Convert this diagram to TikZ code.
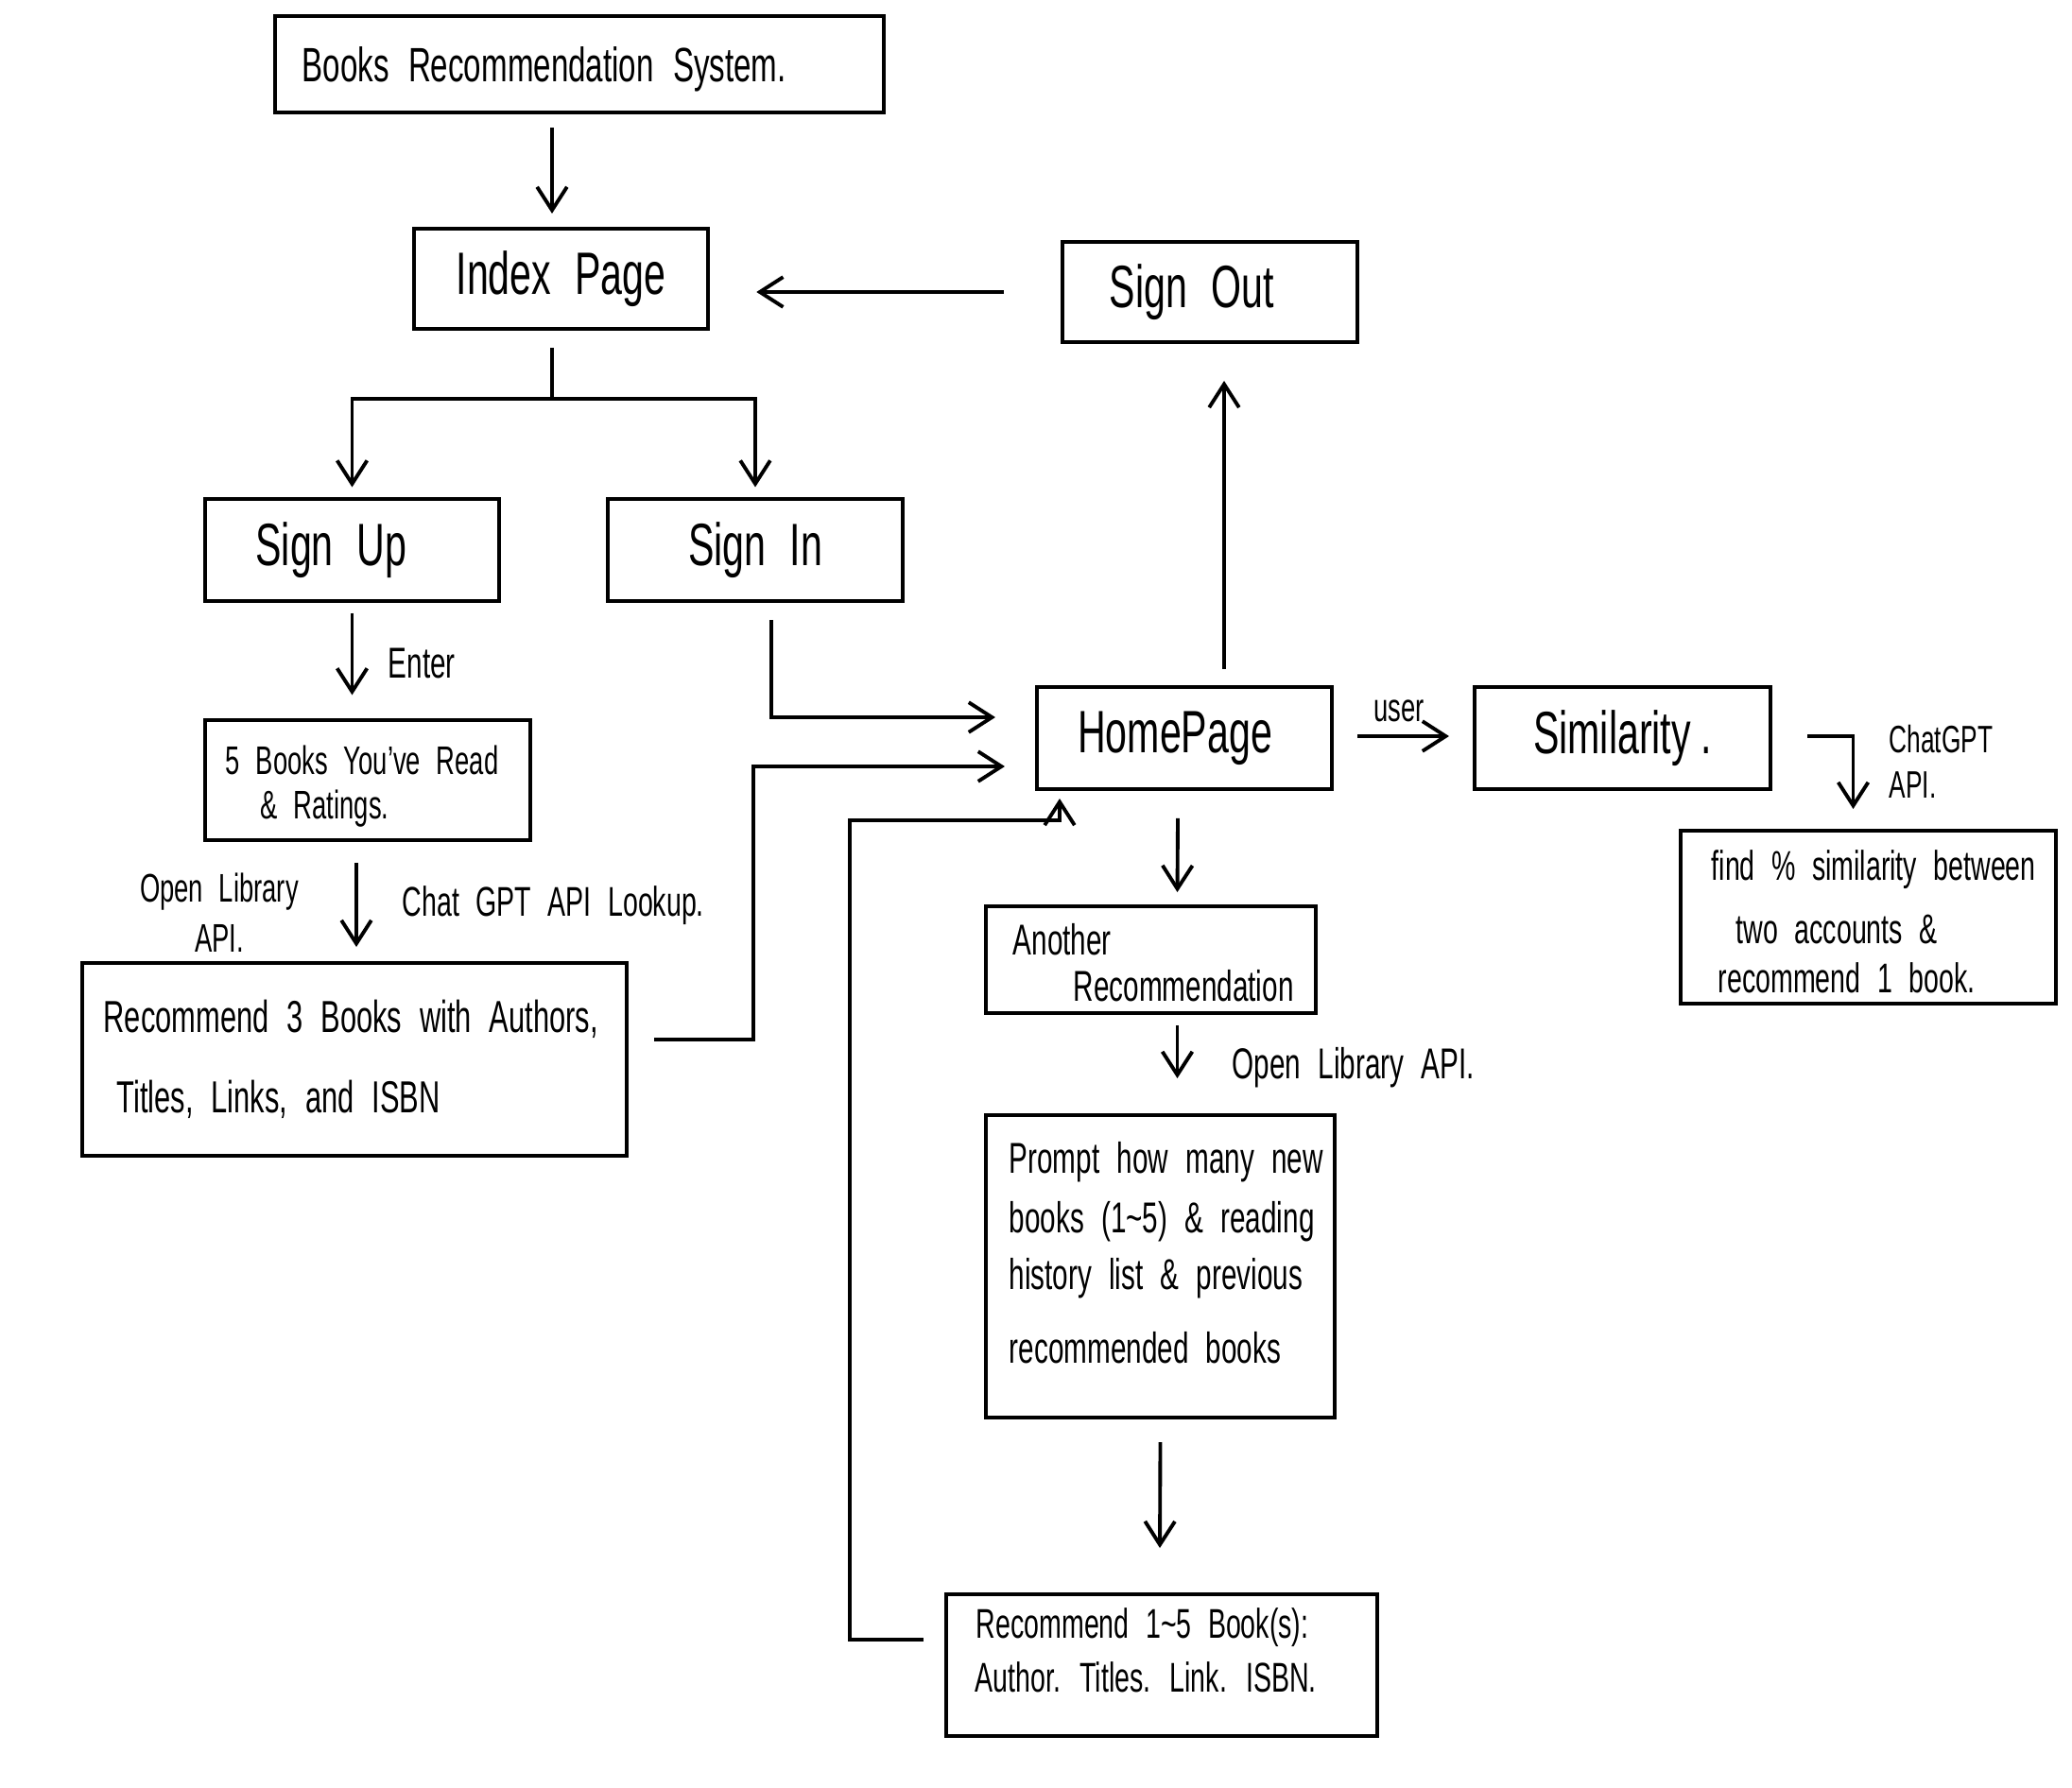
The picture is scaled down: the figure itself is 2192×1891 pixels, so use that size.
\documentclass[tikz,border=0pt]{standalone}
\usepackage{fontspec}
\setmainfont{Liberation Sans}[FakeStretch=0.65,WordSpace=2.2]
\usetikzlibrary{arrows.meta,calc}
\begin{document}
\begin{tikzpicture}[x=0.01cm,y=-0.01cm,
  box/.style={draw, line width=1.1pt, inner sep=0pt},
  ln/.style={line width=1.1pt},
  arr/.style={line width=1.1pt, -{Straight Barb[length=7pt,width=9pt,line width=1.1pt]}},
  big/.style={font=\fontsize{18}{22}\selectfont},
  txt/.style={font=\fontsize{13}{16}\selectfont, inner sep=0pt, anchor=west},
  small/.style={font=\fontsize{12}{15}\selectfont, inner sep=0pt, align=center},
]
\useasboundingbox (0,0) rectangle (2192,1891);

% boxes
\node[box, minimum width=6.44cm, minimum height=1.02cm] (title) at (613,68) {};
\node[txt, font=\fontsize{14.5}{18}\selectfont] (titletxt) at (319,73) {Books Recommendation System.};
\node[box, big, minimum width=3.11cm, minimum height=1.06cm] (index) at (593.5,295) {Index Page};
\node[box, big, minimum width=3.12cm, minimum height=1.06cm] (signout) at (1280,309) {Sign Out\kern11pt};
\node[box, big, minimum width=3.11cm, minimum height=1.08cm] (signup) at (372.5,582) {Sign Up\kern12.5pt};
\node[box, big, minimum width=3.12cm, minimum height=1.08cm] (signin) at (799,582) {Sign In};
\node[box, minimum width=3.44cm, minimum height=1.27cm] (books5) at (389,825.5) {};
\node[txt, font=\fontsize{12}{15}\selectfont] (b5a) at (238,804) {5 Books You've Read};
\node[txt, font=\fontsize{12}{15}\selectfont] (b5b) at (275,856) {\& Ratings.};
\node[box, minimum width=5.76cm, minimum height=2.04cm] (rec3) at (375,1121) {};
\node[txt, font=\fontsize{13.5}{17}\selectfont] (r3a) at (109,1078) {Recommend 3 Books with Authors,};
\node[txt, font=\fontsize{13.5}{17}\selectfont] (r3b) at (123,1163) {Titles, Links, and ISBN};
\node[box, big, minimum width=3.12cm, minimum height=1.08cm] (home) at (1253,781) {HomePage\kern5.6pt};
\node[box, big, minimum width=3.13cm, minimum height=1.08cm] (sim) at (1716.5,781) {Similarity\,.};
\node[box, minimum width=3.97cm, minimum height=1.83cm] (find) at (1976.5,970.5) {};
\node[txt, font=\fontsize{12.5}{15}\selectfont] (fa) at (1810,920) {find \% similarity between};
\node[txt, font=\fontsize{12.5}{15}\selectfont] (fb) at (1836,983) {two accounts \&};
\node[txt, font=\fontsize{12.5}{15}\selectfont] (fc) at (1817,1035) {recommend 1 book.};
\node[box, minimum width=3.49cm, minimum height=1.13cm] (another) at (1217.5,1015.5) {};
\node[txt] (aa) at (1071,994) {Another};
\node[txt] (ab) at (1135,1043) {Recommendation};
\node[box, minimum width=3.69cm, minimum height=3.20cm] (prompt) at (1227.5,1340) {};
\node[txt] (pa) at (1067,1230) {Prompt how many new};
\node[txt] (pb) at (1067,1293) {books (1\textasciitilde5) \& reading};
\node[txt] (pc) at (1067,1353) {history list \& previous};
\node[txt] (pd) at (1067,1426) {recommended books};
\node[box, minimum width=4.56cm, minimum height=1.50cm] (rec15) at (1229,1762) {};
\node[txt, font=\fontsize{12.5}{15}\selectfont] (r5a) at (1032,1722) {Recommend 1\textasciitilde5 Book(s):};
\node[txt, font=\fontsize{12.5}{15}\selectfont] (r5b) at (1031,1775) {Author. Titles. Link. ISBN.};

% labels
\node[txt] (enter) at (410,702) {Enter};
\node[small] (olapi) at (232,966) {Open Library\\API.};
\node[txt, font=\fontsize{12.5}{15}\selectfont] (gptl) at (425,958) {Chat GPT API Lookup.};
\node[small, font=\fontsize{12}{15}\selectfont] (user) at (1480,752) {user};
\node[small, align=left, anchor=west, font=\fontsize{11.5}{13.5}\selectfont] (gpt2) at (1998,806) {ChatGPT\\API.};
\node[txt] (ol2) at (1303,1130) {Open Library API.};

% connectors
\coordinate (split) at (584,422);
\coordinate (j1) at (797,811);
\coordinate (j2) at (899,868);
\draw[arr, shorten <=4pt, shorten >=4pt] ($(title.south)+(-29,0)$) -- ($(index.north)+(-9.5,0)$);
\draw[arr, shorten <=17pt, shorten >=14pt] (signout.west) -- (signout.west -| index.east);
\draw[ln] ($(index.south)+(-9.5,18)$) -- (split);
\draw[arr, shorten >=3pt] (split) -| (signup.north);
\draw[arr, shorten >=3pt] (split) -| (signin.north);
\draw[arr, shorten <=3pt, shorten >=7pt] (signup.south) -- (signup.south |- books5.north);
\draw[arr] ($(books5.south)+(-12,22)$) -- ($(rec3.north)+(2,-15)$);
\draw[arr] ($(rec3.east)+(27,-21)$) -| (j1) -- ($(home.west)+(-32,30)$);
\draw[arr] ($(signin.south)+(17,18)$) |- ($(home.west)+(-42,-22)$);
\draw[arr] ($(home.north)+(42,-17)$) -- ($(signout.south)+(15,39)$);
\draw[arr] ($(home.east)+(25,-2)$) -- ($(sim.west)+(-25,-2)$);
\draw[arr] ($(sim.east)+(37,-2)$) -| ($(find.north)+(-16,-21)$);
\draw[arr] ($(home.south)+(-7,29)$) -- ($(another.north)+(28,-13)$);
\draw[arr] ($(another.south)+(28,11)$) -- ($(prompt.north)+(18,-37)$);
\draw[arr] ($(prompt.south)+(0,24)$) -- ($(rec15.north)+(-2,-47)$);
\draw[arr] ($(rec15.west)+(-22,-27)$) -| (j2) -| ($(home.south west)+(26,8)$);
\end{tikzpicture}
\end{document}
